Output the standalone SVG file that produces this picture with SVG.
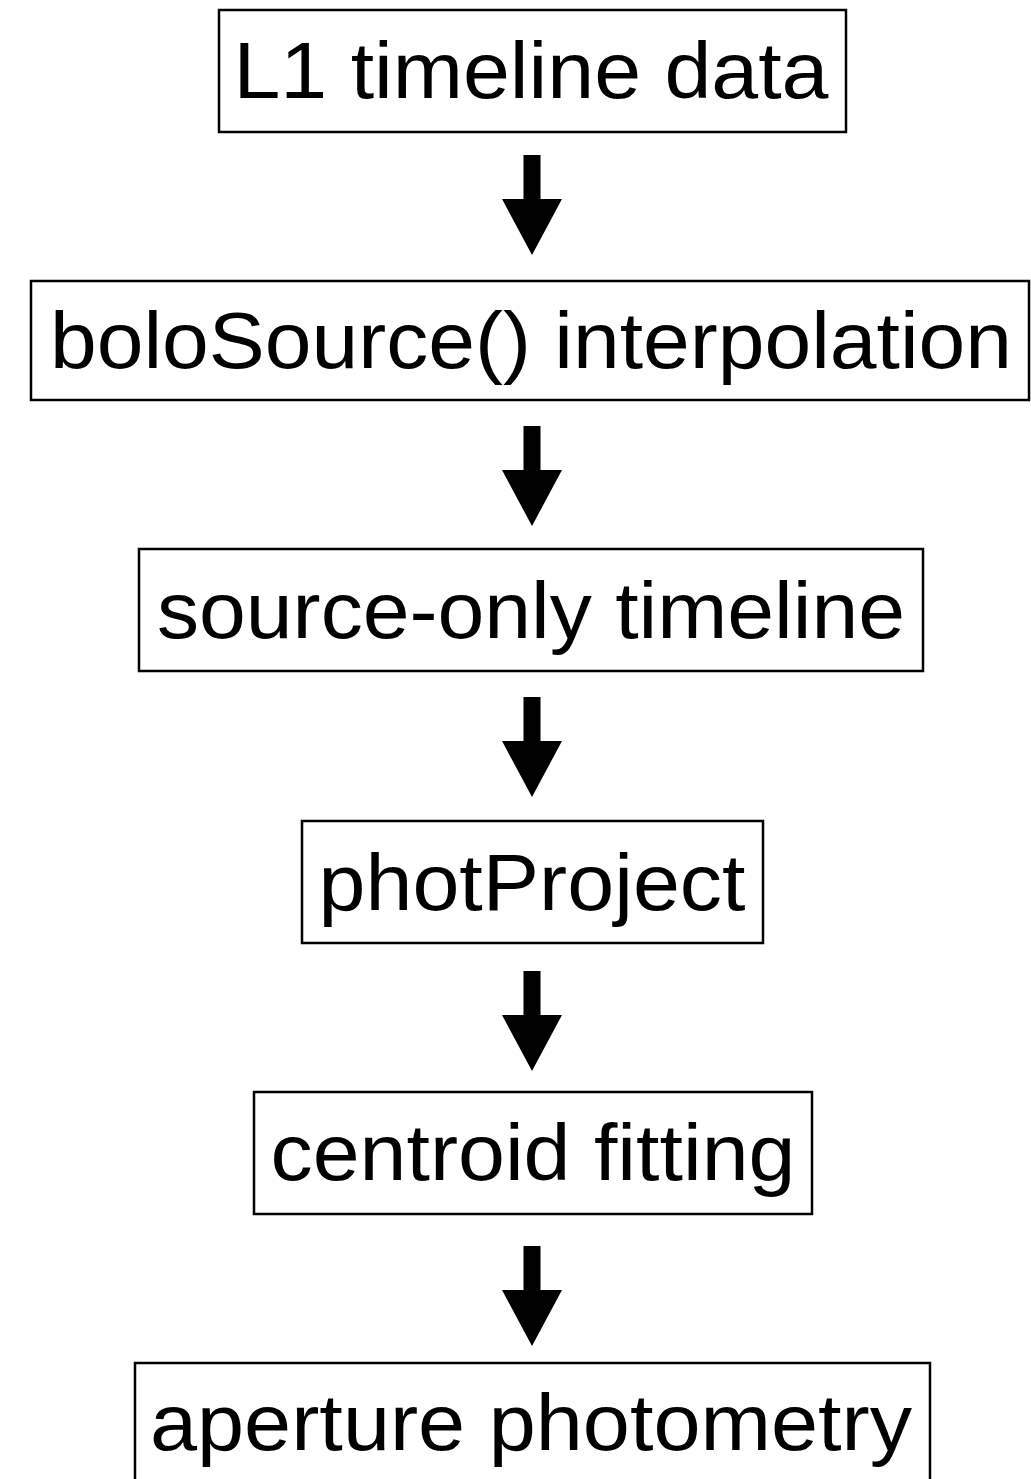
<svg xmlns="http://www.w3.org/2000/svg" width="1031" height="1479" viewBox="0 0 1031 1479">
<style>
.box{fill:#fff;stroke:#000;stroke-width:2.5}
.lbl{font-family:"Liberation Sans",Arial,sans-serif;font-size:80px;fill:#000;text-anchor:middle}
.arr{fill:#000}
</style>
<defs>
<path id="arrow" d="M-8.5,0 H8.5 V44 H30 L0,100 L-30,44 H-8.5 Z"/>
</defs>
<rect width="1031" height="1479" fill="#fff"/>
<g id="connectors">
<use href="#arrow" class="arr" x="532" y="155"/>
<use href="#arrow" class="arr" x="532" y="426"/>
<use href="#arrow" class="arr" x="532" y="697"/>
<use href="#arrow" class="arr" x="532" y="971"/>
<use href="#arrow" class="arr" x="532" y="1246"/>
</g>
<g id="n1"><rect class="box" x="219" y="10" width="627" height="122"/><text class="lbl" x="531" y="98" textLength="595" lengthAdjust="spacingAndGlyphs">L1 timeline data</text></g>
<g id="n2"><rect class="box" x="31" y="281" width="998" height="119"/><text class="lbl" x="531" y="368" textLength="962" lengthAdjust="spacingAndGlyphs">boloSource() interpolation</text></g>
<g id="n3"><rect class="box" x="139" y="549" width="784" height="122"/><text class="lbl" x="531" y="638" textLength="748" lengthAdjust="spacingAndGlyphs">source-only timeline</text></g>
<g id="n4"><rect class="box" x="302" y="821" width="461" height="122"/><text class="lbl" x="532" y="910" textLength="427" lengthAdjust="spacingAndGlyphs">photProject</text></g>
<g id="n5"><rect class="box" x="254" y="1092" width="558" height="122"/><text class="lbl" x="533" y="1180" textLength="525" lengthAdjust="spacingAndGlyphs">centroid fitting</text></g>
<g id="n6"><rect class="box" x="135" y="1363" width="795" height="130"/><text class="lbl" x="531" y="1450" textLength="762" lengthAdjust="spacingAndGlyphs">aperture photometry</text></g>
</svg>
